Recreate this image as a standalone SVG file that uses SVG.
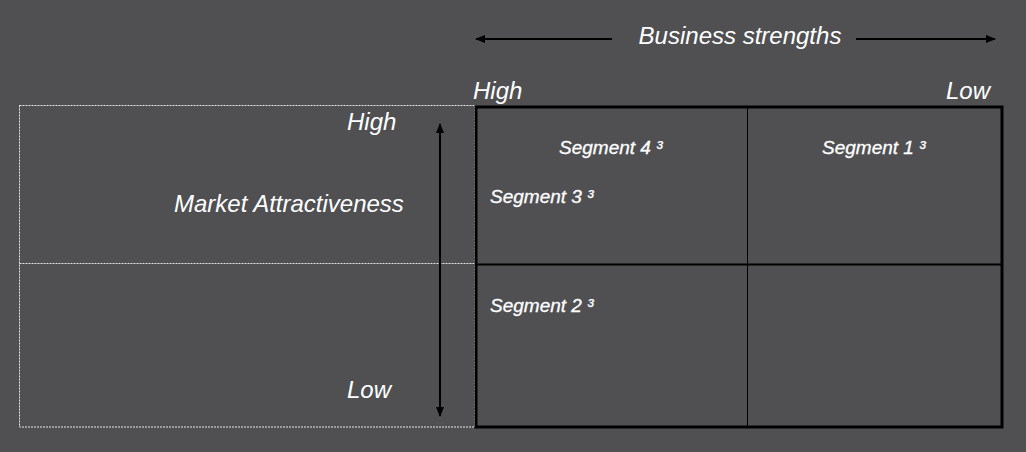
<svg xmlns="http://www.w3.org/2000/svg" width="1026" height="452" viewBox="0 0 1026 452">
<defs>
<style>
.t{font-family:"Liberation Sans",Arial,sans-serif;font-style:italic;fill:#ffffff}
.big{font-size:24px}
.seg{font-size:19px;stroke:#ffffff;stroke-width:0.3}
.dot{fill:none;stroke:#e6e6e6;stroke-width:1;stroke-dasharray:2 1}
.arr{stroke:#000;stroke-width:2;fill:none}
</style>
<marker id="ah" viewBox="0 0 10 10" refX="9" refY="5" markerWidth="5" markerHeight="5" orient="auto-start-reverse" markerUnits="strokeWidth">
<path d="M0,1 L10,5 L0,9 z" fill="#000"/>
</marker>
</defs>
<rect width="1026" height="452" fill="#505053"/>
<g id="left-panel">
<rect class="dot" x="19.5" y="105.5" width="455" height="321.5"/>
<line class="dot" x1="19.5" y1="263.5" x2="474.5" y2="263.5"/>
</g>
<g id="grid">
<rect x="476" y="107" width="526" height="320" fill="none" stroke="#000" stroke-width="3"/>
<line x1="476" y1="264.5" x2="1002" y2="264.5" stroke="#000" stroke-width="2"/>
<line x1="747.5" y1="107" x2="747.5" y2="427" stroke="#000" stroke-width="1"/>
</g>
<g id="connectors">
<line class="arr" x1="612" y1="39" x2="476" y2="39" marker-end="url(#ah)"/>
<line class="arr" x1="856" y1="39" x2="995" y2="39" marker-end="url(#ah)"/>
<line class="arr" x1="440" y1="124" x2="440" y2="416" marker-start="url(#ah)" marker-end="url(#ah)"/>
</g>
<g id="labels">
<text class="t big" x="740" y="44" text-anchor="middle">Business strengths</text>
<text class="t big" x="473" y="99">High</text>
<text class="t big" x="990" y="99" text-anchor="end">Low</text>
<text class="t big" x="347" y="130">High</text>
<text class="t big" x="174" y="212">Market Attractiveness</text>
<text class="t big" x="347" y="398">Low</text>
</g>
<g id="seg4"><text class="t seg" x="559" y="154">Segment 4 ³</text></g>
<g id="seg1"><text class="t seg" x="822" y="154">Segment 1 ³</text></g>
<g id="seg3"><text class="t seg" x="490" y="203">Segment 3 ³</text></g>
<g id="seg2"><text class="t seg" x="490" y="312">Segment 2 ³</text></g>
</svg>
